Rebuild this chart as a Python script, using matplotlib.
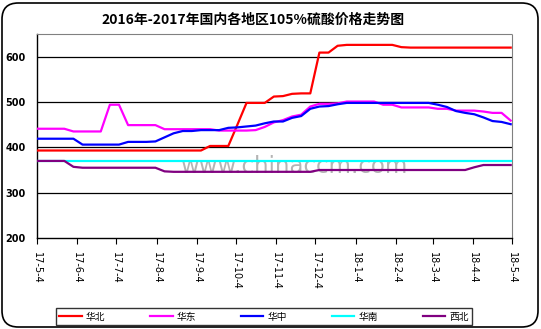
import matplotlib
matplotlib.use("Agg")
import matplotlib.pyplot as plt
import matplotlib.dates as mdates
from matplotlib.patches import FancyBboxPatch
import pandas as pd

plt.rcParams['font.family'] = ['Noto Sans CJK SC', 'DejaVu Sans']

title = "2016年-2017年国内各地区105%硫酸价格走势图"
start_date = "2017-05-04"
n_weeks = 53
dates = pd.date_range(start_date, periods=n_weeks, freq="7D")

tick_labels = ['17-5-4', '17-6-4', '17-7-4', '17-8-4', '17-9-4', '17-10-4', '17-11-4',
               '17-12-4', '18-1-4', '18-2-4', '18-3-4', '18-4-4', '18-5-4']
tick_dates = pd.to_datetime(['2017-05-04', '2017-06-04', '2017-07-04', '2017-08-04', '2017-09-04',
                             '2017-10-04', '2017-11-04', '2017-12-04', '2018-01-04', '2018-02-04',
                             '2018-03-04', '2018-04-04', '2018-05-04'])

huabei = [393] * 19 + [403, 403, 403, 450, 498, 498, 498, 512, 513, 518, 519, 519,
                       609, 609, 624, 626, 626, 626, 626, 626, 626, 621] + [620] * 12
huadong = [441, 441, 441, 441, 435, 435, 435, 435, 494, 494, 449, 449, 449, 449,
           440, 440, 440, 440, 440, 440, 437, 437, 437, 437, 438, 445, 455, 460, 468,
           472, 490, 496, 496, 497, 501, 501, 501, 501, 494, 494, 488, 488, 488, 488,
           485, 485, 481, 481, 481, 479, 476, 476, 459]
huazhong = [419, 419, 419, 419, 419, 406, 406, 406, 406, 406, 412, 412, 412, 413,
            422, 431, 436, 436, 438, 438, 438, 443, 444, 446, 448, 453, 457, 457, 465,
            469, 485, 490, 491, 495, 498, 498, 498, 498, 498, 498, 498, 498, 498, 498,
            494, 489, 480, 476, 473, 466, 458, 456, 451]
huanan = [370] * 53
xibei = [370, 370, 370, 370, 357] + [355] * 9 + [347] + [346] * 16 + [350] * 17 + [356, 361, 361, 361, 361]

series = [("华北", huabei, "#ff0000"), ("华东", huadong, "#ff00ff"),
          ("华中", huazhong, "#0000ff"), ("华南", huanan, "#00ffff"),
          ("西北", xibei, "#800080")]

fig = plt.figure(figsize=(5.41, 3.29), dpi=100)
fig.patch.set_facecolor("white")
frame = FancyBboxPatch((2 / 541, 2 / 329), 536 / 541, 324 / 329,
                       boxstyle="round,pad=0,rounding_size=0.03",
                       transform=fig.transFigure, facecolor="none",
                       edgecolor="black", linewidth=1.2, mutation_aspect=541 / 329)
fig.patches.append(frame)

ax = fig.add_axes([37 / 541, 91 / 329, 475 / 541, 204 / 329])
ax.set_ylim(200, 650)
ax.set_xlim(tick_dates[0], tick_dates[-1])

for y in [300, 400, 500, 600]:
    ax.axhline(y, color="black", lw=0.9, zorder=1)

ax.text(0.54, 0.35, "www.chinaccm.com", transform=ax.transAxes, fontsize=16.5,
        color="#b4b4b4", ha="center", va="center", family="DejaVu Sans", zorder=1.5)

handles = []
for name, vals, col in series:
    h, = ax.plot(dates, vals, color=col, lw=1.6, label=name, zorder=3)
    handles.append(h)

ax.set_yticks([200, 300, 400, 500, 600])
ax.set_yticklabels(["200", "300", "400", "500", "600"], fontsize=7, fontweight="bold",
                   family="DejaVu Sans")
ax.tick_params(axis="y", length=0, pad=8)
ax.set_xticks(tick_dates)
ax.set_xticklabels(tick_labels, rotation=-90, fontsize=7, family="DejaVu Sans")
ax.tick_params(axis="x", length=4, width=0.8, direction="out", pad=6)

ax.spines["left"].set_color("black")
ax.spines["bottom"].set_color("black")
ax.spines["left"].set_linewidth(1)
ax.spines["bottom"].set_linewidth(1)
for s in ["top", "right"]:
    ax.spines[s].set_color("#808080")
    ax.spines[s].set_linestyle((0, (1, 1)))
    ax.spines[s].set_linewidth(0.8)

fig.text(253 / 541, 1 - 20 / 329, title, ha="center", va="center", fontsize=10,
         fontweight="bold")

leg = fig.legend(handles=handles, loc="lower left", ncol=5,
                 bbox_to_anchor=(56 / 541, 4 / 329, 416 / 541, 20 / 329),
                 mode="expand", fontsize=7, frameon=True, fancybox=False,
                 handlelength=2.3, handletextpad=0.4, borderaxespad=0, borderpad=0.35)
leg.get_frame().set_edgecolor("black")
leg.get_frame().set_linewidth(1)

fig.savefig("out.png", dpi=100)
